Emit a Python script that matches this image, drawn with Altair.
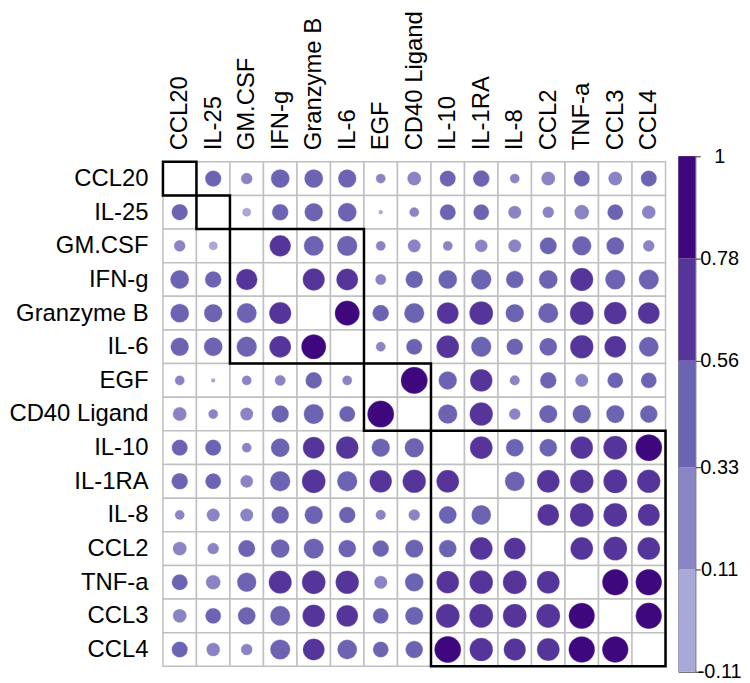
import json
import altair as alt
import pandas as pd

# ---------------- data ----------------
variables = ["CCL20", "IL-25", "GM.CSF", "IFN-g", "Granzyme B", "IL-6", "EGF",
             "CD40 Ligand", "IL-10", "IL-1RA", "IL-8", "CCL2", "TNF-a", "CCL3", "CCL4"]

# lower triangle of the (symmetric) correlation matrix, row i holds columns 0..i-1
lower = [
    [],
    [0.35],
    [0.17, 0.09],
    [0.47, 0.36, 0.62],
    [0.47, 0.45, 0.53, 0.66],
    [0.45, 0.47, 0.55, 0.64, 0.84],
    [0.12, 0.02, 0.12, 0.15, 0.36, 0.12],
    [0.25, 0.12, 0.22, 0.40, 0.54, 0.34, 0.98],
    [0.34, 0.34, 0.12, 0.47, 0.64, 0.69, 0.45, 0.50],
    [0.36, 0.33, 0.21, 0.55, 0.76, 0.55, 0.68, 0.74, 0.70],
    [0.12, 0.22, 0.22, 0.41, 0.45, 0.36, 0.13, 0.17, 0.42, 0.52],
    [0.25, 0.17, 0.39, 0.47, 0.54, 0.42, 0.36, 0.44, 0.42, 0.70, 0.64],
    [0.34, 0.28, 0.50, 0.72, 0.76, 0.74, 0.22, 0.46, 0.69, 0.75, 0.77, 0.70],
    [0.25, 0.33, 0.42, 0.54, 0.69, 0.64, 0.33, 0.44, 0.77, 0.77, 0.77, 0.77, 0.93],
    [0.34, 0.24, 0.17, 0.54, 0.64, 0.52, 0.33, 0.41, 0.97, 0.74, 0.66, 0.70, 0.94, 0.94],
]

# hierarchical clusters (first index, end index exclusive)
cluster_start = [0, 1, 2, 6, 8]
cluster_end = [1, 2, 6, 8, 15]

# colour bins
bin_thresholds = [0.11, 0.33, 0.56, 0.78]
bin_low = [-0.11, 0.11, 0.33, 0.56, 0.78]
bin_high = [0.11, 0.33, 0.56, 0.78, 1.0]
bin_colors = ["#aba7d6", "#8b84c4", "#6c64b2", "#56359a", "#3f077e"]
colorbar_ticks = [1, 0.78, 0.56, 0.33, 0.11, -0.11]

# ---------------- tables ----------------
n = len(variables)
cells = []
circles = []
for i in range(n):
    for j in range(n):
        cells.append({"x0": j, "x1": j + 1, "y0": i, "y1": i + 1})
        if i != j:
            v = lower[i][j] if j < i else lower[j][i]
            circles.append({"xc": j + 0.5, "yc": i + 0.5, "value": v,
                            "row": variables[i], "col": variables[j]})
cells_df = pd.DataFrame(cells)
circles_df = pd.DataFrame(circles)
boxes_df = pd.DataFrame({"s": cluster_start, "e": cluster_end})
bar_df = pd.DataFrame({"lo": bin_low, "hi": bin_high,
                       "mid": [(a + b) / 2 for a, b in zip(bin_low, bin_high)]})

FONT = "Liberation Sans"
names_js = json.dumps(variables)
label_expr = f"{names_js}[floor(datum.value)]"
tick_vals = [k + 0.5 for k in range(n)]

xs = alt.Scale(domain=[0, n], nice=False, zero=False)
ys = alt.Scale(domain=[0, n], nice=False, zero=False, reverse=True)
color_scale = alt.Scale(type="threshold", domain=bin_thresholds, range=bin_colors)


def x_axis():
    return alt.Axis(orient="top", values=tick_vals, labelExpr=label_expr, title=None,
                    ticks=False, domain=False, grid=False, labelAngle=270,
                    labelAlign="left", labelBaseline="middle", labelFontSize=24,
                    labelFont=FONT, labelColor="black", labelPadding=12,
                    labelOverlap=False, labelFlush=False, labelBound=False,
                    labelSeparation=0)


def y_axis():
    return alt.Axis(orient="left", values=tick_vals, labelExpr=label_expr, title=None,
                    ticks=False, domain=False, grid=False, labelFontSize=24,
                    labelFont=FONT, labelColor="black", labelPadding=15,
                    labelOverlap=False, labelFlush=False, labelBound=False,
                    labelSeparation=0)


grid = alt.Chart(cells_df).mark_rect(fill="white", stroke="#c0c0c0", strokeWidth=1.5).encode(
    x=alt.X("x0:Q", scale=xs, axis=x_axis()),
    x2="x1:Q",
    y=alt.Y("y0:Q", scale=ys, axis=y_axis()),
    y2="y1:Q",
)

dots = alt.Chart(circles_df).mark_circle(opacity=1, stroke="#8c7fc6", strokeWidth=0.6,
                                         strokeOpacity=0.5).encode(
    x=alt.X("xc:Q", scale=xs, axis=x_axis()),
    y=alt.Y("yc:Q", scale=ys, axis=y_axis()),
    size=alt.Size("value:Q", scale=alt.Scale(domain=[0, 1], range=[0, 730]), legend=None),
    color=alt.Color("value:Q", scale=color_scale, legend=None),
)

boxes = alt.Chart(boxes_df).mark_rect(fillOpacity=0, stroke="black", strokeWidth=2.5).encode(
    x=alt.X("s:Q", scale=xs, axis=x_axis()),
    x2="e:Q",
    y=alt.Y("s:Q", scale=ys, axis=y_axis()),
    y2="e:Q",
)

main = alt.layer(grid, dots, boxes).properties(width=506, height=508)

bar_axis = alt.Axis(orient="right", values=colorbar_ticks, title=None, grid=False,
                    domain=False, ticks=True, tickSize=5, tickColor="#333333",
                    tickWidth=1, labelFontSize=20, labelFont=FONT, labelColor="black",
                    labelAlign="center", labelPadding=19, labelOverlap=False,
                    labelFlush=False, labelBound=False,
                    labelExpr="datum.value === 1 ? '1' : (datum.value < 0 ? '-' : '') + format(abs(datum.value), '.2f')")

colorbar = alt.Chart(bar_df).mark_rect().encode(
    y=alt.Y("lo:Q", scale=alt.Scale(domain=[-0.11, 1], nice=False, zero=False), axis=bar_axis),
    y2="hi:Q",
    color=alt.Color("mid:Q", scale=color_scale, legend=None),
).properties(width=17, height=519, view=alt.ViewBackground(stroke="#4a4a4a", strokeWidth=1))

chart = alt.hconcat(main, colorbar, spacing=13, bounds="flush", center=True).properties(
    padding=0
).configure_view(stroke=None).configure_axis(labelOverlap=False).resolve_scale(
    color="independent", y="independent", x="independent")

chart.save("out.html", embed_options={"renderer": "svg", "actions": False})
